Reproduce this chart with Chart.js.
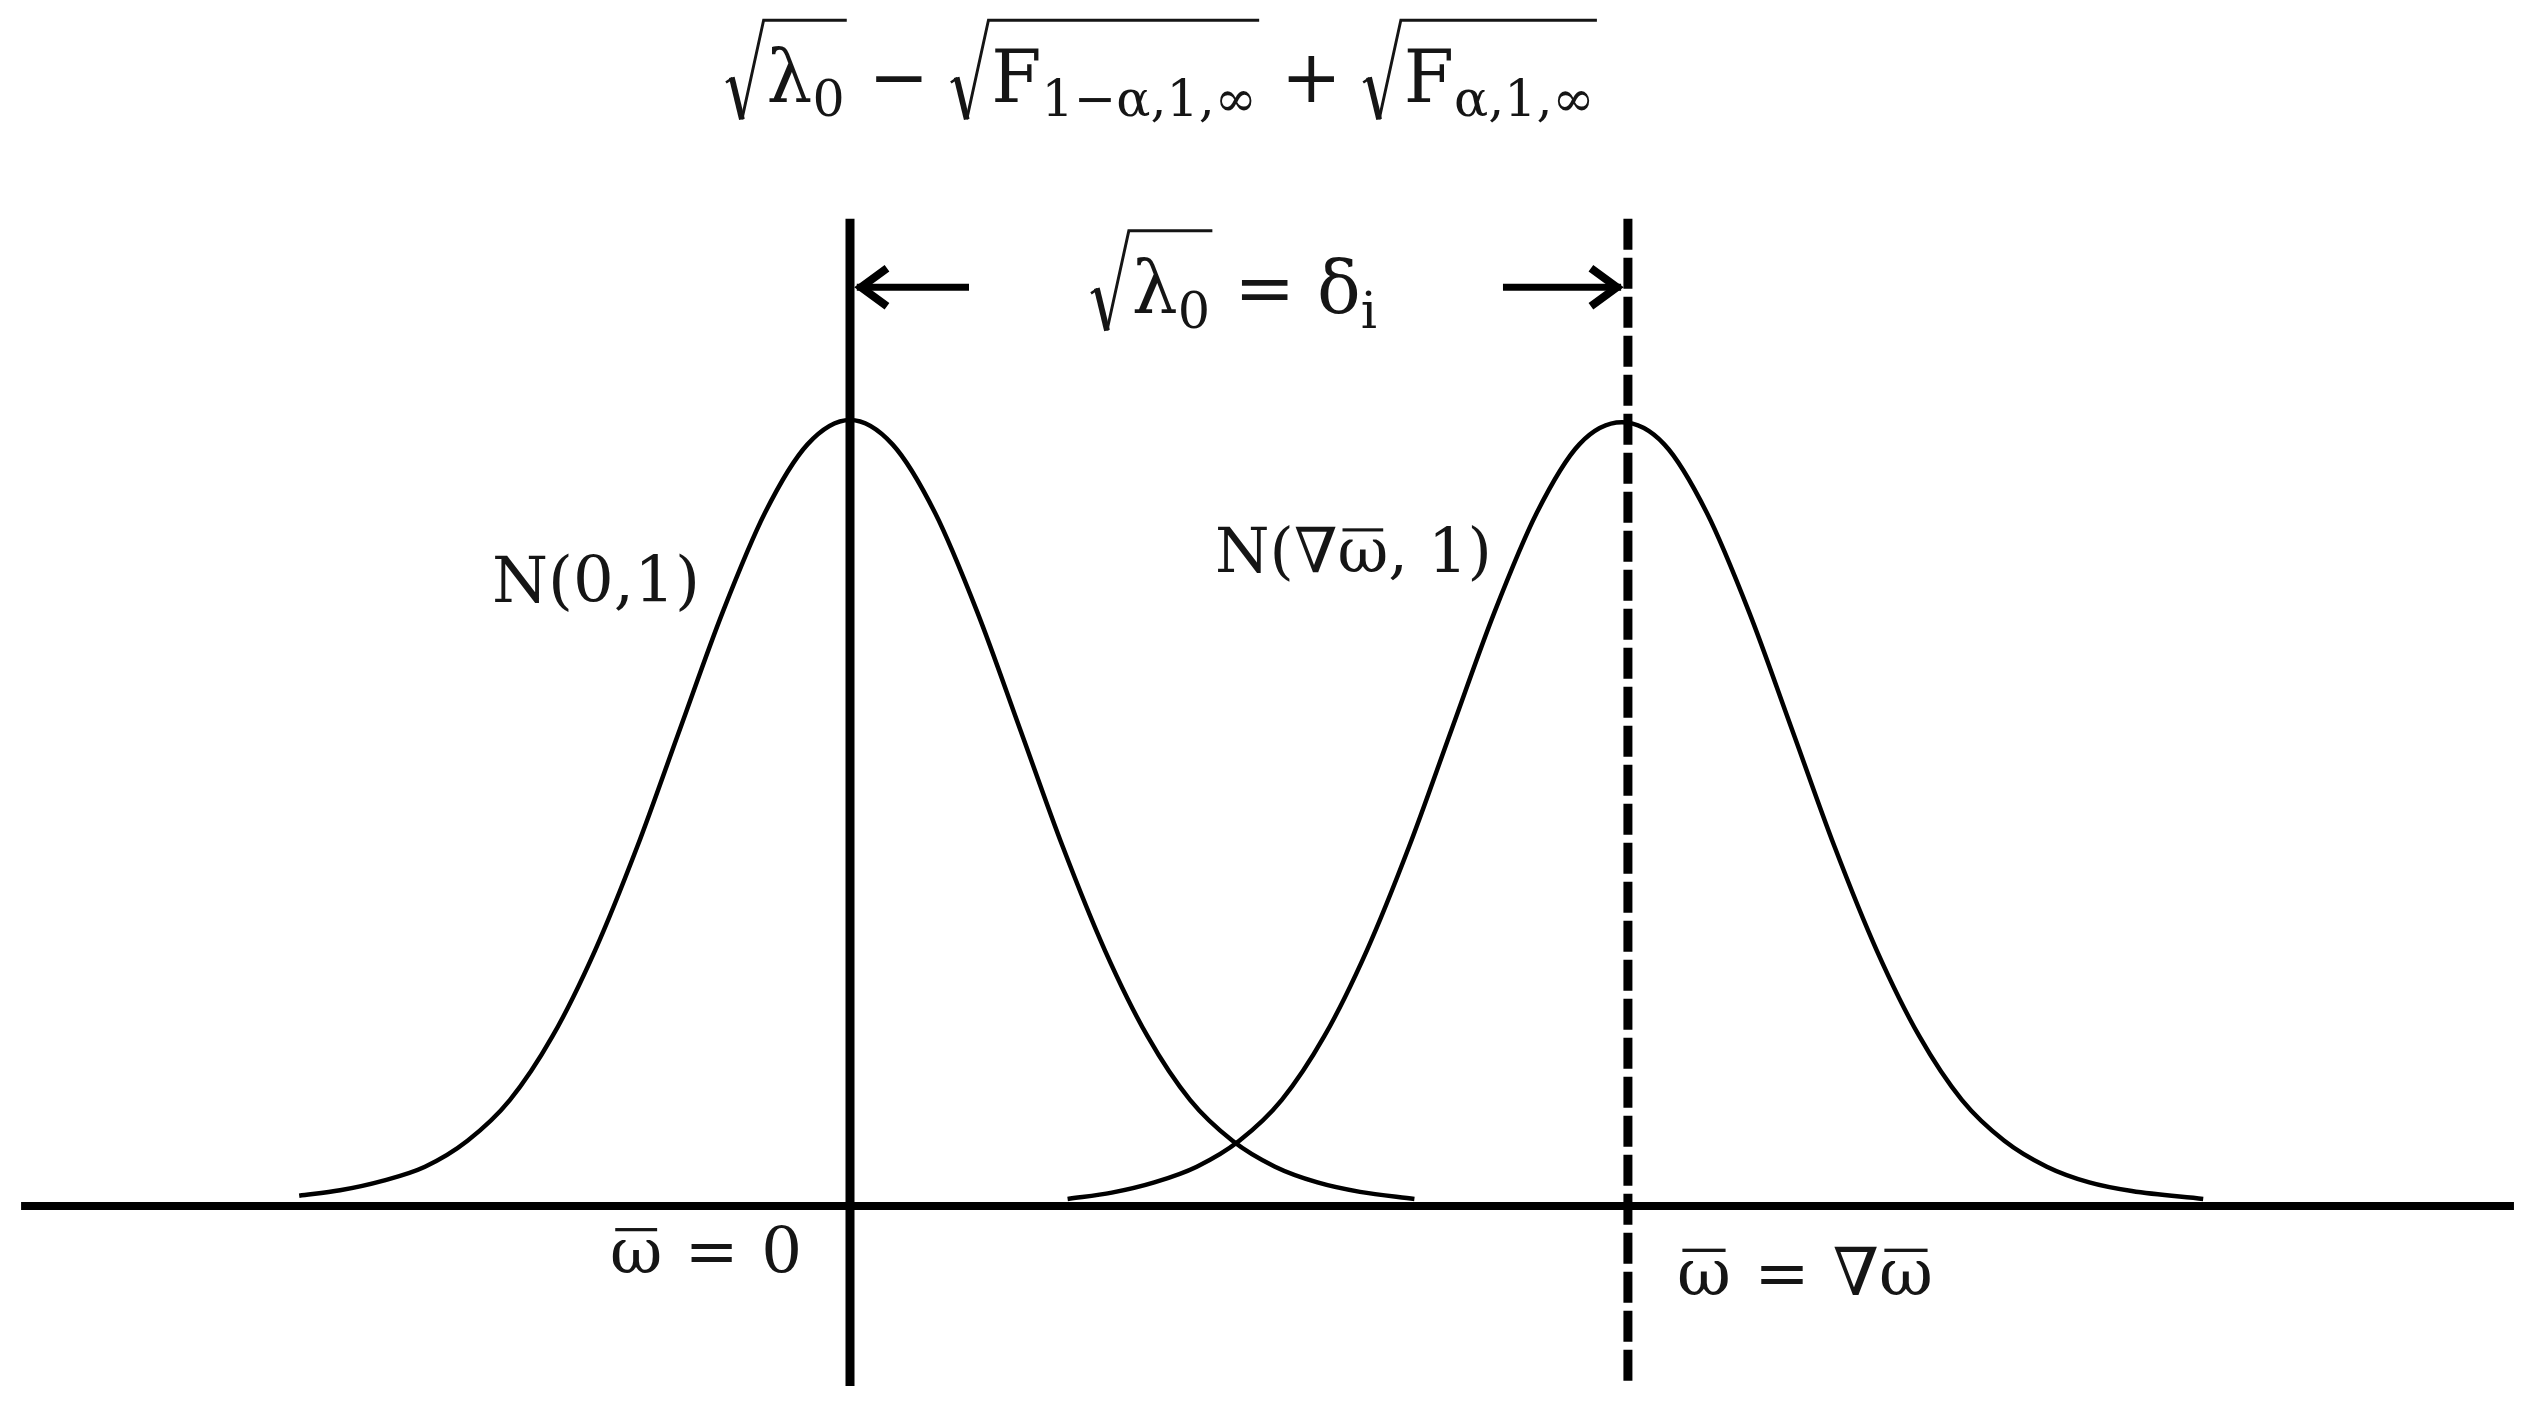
<!DOCTYPE html>
<html><head><meta charset="utf-8">
<script src="https://cdn.jsdelivr.net/npm/chart.js@4"></script>
<style>html,body{margin:0;padding:0;background:#fff;} #wrap{width:2542px;height:1419px;position:relative;}</style>
</head><body><div id="wrap"><canvas id="c"></canvas></div>
<script>
// ---------- data (x in sigma units, y as density relative to peak) ----------
const leftCurveX  = [-3.24,-3.0,-2.75,-2.5,-2.25,-2.0,-1.75,-1.5,-1.25,-1.0,-0.75,-0.5,-0.25,0,0.25,0.5,0.75,1.0,1.25,1.5,1.75,2.0,2.25,2.5,2.75,3.0,3.32];
const leftCurveY  = [0.013,0.02,0.032,0.05,0.083,0.135,0.216,0.325,0.458,0.607,0.755,0.882,0.969,1.0,0.969,0.882,0.755,0.607,0.458,0.325,0.216,0.135,0.083,0.05,0.03,0.018,0.009];
const rightCurveX = [1.28,1.54,1.79,2.04,2.29,2.54,2.79,3.04,3.29,3.54,3.79,4.04,4.29,4.54,4.79,5.04,5.29,5.54,5.79,6.04,6.29,6.54,6.79,7.04,7.29,7.54,7.96];
const rightCurveY = [0.009,0.017,0.03,0.05,0.083,0.135,0.216,0.325,0.458,0.607,0.755,0.882,0.969,0.997,0.969,0.882,0.755,0.607,0.458,0.325,0.216,0.135,0.083,0.05,0.03,0.019,0.009];
const meanZero = 0;
const meanShift = 4.576;
const axisRange = [-4.876, 9.788];
const guideRange = [-0.229, 1.256];
const arrowLevel = 1.169;
const arrowLeftTail = 0.70;
const arrowRightTail = 3.841;

// ---------- labels ----------
const T=(s)=>({k:'T',s}), S=(s)=>({k:'S',s}), W=(w)=>({k:'W',w}), B=(s)=>({k:'B',s}), R=(c)=>({k:'R',c});
const labels = [
  {items:[R([T('λ'),S('0')]),W(0.3),T('−'),W(0.3),R([T('F'),S('1−α,1,∞')]),W(0.3),T('+'),W(0.3),R([T('F'),S('α,1,∞')])], x0:726, x1:1597, base:102},
  {items:[R([T('λ'),S('0')]),W(0.3),T('='),W(0.3),T('δ'),S('i')], x0:1091, x1:1377, base:313},
  {items:[T('N(0,1)')], x0:492, x1:700, base:602},
  {items:[T('N(∇'),B('ω'),T(', 1)')], x0:1215, x1:1492, base:572},
  {items:[B('ω'),W(0.35),T('='),W(0.35),T('0')], x0:610, x1:802, base:1273},
  {items:[B('ω'),W(0.35),T('='),W(0.35),T('∇'),B('ω')], x0:1677, x1:1933, base:1295},
];
const FONT = '"DejaVu Serif", serif';
function fnt(sz){ return sz+'px '+FONT; }
function flow(ctx, items, s, draw, x, y){
  let cx = x;
  for (const it of items){
    if (it.k==='T'){ ctx.font=fnt(s); const w=ctx.measureText(it.s).width; if(draw) ctx.fillText(it.s,cx,y); cx+=w; }
    else if (it.k==='S'){ ctx.font=fnt(s*0.7); const w=ctx.measureText(it.s).width; if(draw) ctx.fillText(it.s,cx,y+s*0.2); cx+=w; }
    else if (it.k==='W'){ cx += it.w*s; }
    else if (it.k==='B'){ ctx.font=fnt(s); const w=ctx.measureText(it.s).width; if(draw){ ctx.fillText(it.s,cx,y); ctx.fillRect(cx+w*0.1, y-s*0.70, w*0.8, Math.max(2,s*0.05)); } cx+=w; }
    else if (it.k==='R'){
      const sw=s*0.52;
      const end = flow(ctx,it.c,s,draw,cx+sw+s*0.04,y)+s*0.03;
      if(draw){
        const top=y-s*1.13, bot=y+s*0.24;
        ctx.lineCap='butt'; ctx.lineJoin='miter';
        ctx.beginPath(); ctx.lineWidth=s*0.035; ctx.moveTo(cx,y-s*0.27); ctx.lineTo(cx+s*0.09,y-s*0.33); ctx.stroke();
        ctx.beginPath(); ctx.lineWidth=s*0.08; ctx.moveTo(cx+s*0.08,y-s*0.34); ctx.lineTo(cx+s*0.22,bot); ctx.stroke();
        ctx.beginPath(); ctx.lineWidth=s*0.04; ctx.moveTo(cx+s*0.22,bot); ctx.lineTo(cx+sw,top); ctx.lineTo(end,top); ctx.stroke();
      }
      cx = end;
    }
  }
  return cx;
}
const decor = {
  id:'decor',
  afterDatasetsDraw(chart){
    const ctx=chart.ctx, xs=chart.scales.x, ys=chart.scales.y;
    ctx.save();
    ctx.strokeStyle='#000'; ctx.lineWidth=8; ctx.lineJoin='miter'; ctx.lineCap='butt';
    const ay=ys.getPixelForValue(arrowLevel);
    const heads=[[xs.getPixelForValue(meanZero)+4.5+6.5,-1],[xs.getPixelForValue(meanShift)-4.5-6.5,1]];
    for(const [tx,d] of heads){
      ctx.beginPath(); ctx.moveTo(tx-d*26,ay-19); ctx.lineTo(tx,ay); ctx.lineTo(tx-d*26,ay+19); ctx.stroke();
    }
    ctx.fillStyle='#151515'; ctx.strokeStyle='#151515'; ctx.textBaseline='alphabetic';
    for(const L of labels){
      const w0 = flow(ctx,L.items,64,false,0,0);
      const s = 64*(L.x1-L.x0)/w0;
      flow(ctx,L.items,s,true,L.x0,L.base);
    }
    ctx.restore();
  }
};
const pts=(xa,ya)=>xa.map((x,i)=>({x,y:ya[i]}));
const line=(data,w,extra)=>Object.assign({data,borderColor:'#000',borderWidth:w,pointRadius:0,fill:false,tension:0,borderCapStyle:'butt'},extra||{});
new Chart(document.getElementById('c'),{
  type:'line',
  data:{datasets:[
    line([{x:axisRange[0],y:0},{x:axisRange[1],y:0}],8),
    line([{x:meanZero,y:guideRange[1]},{x:meanZero,y:guideRange[0]}],9),
    line([{x:meanShift,y:guideRange[1]},{x:meanShift,y:guideRange[0]}],9,{borderDash:[31,8]}),
    line(pts(leftCurveX,leftCurveY),4.5,{cubicInterpolationMode:'monotone'}),
    line(pts(rightCurveX,rightCurveY),4.5,{cubicInterpolationMode:'monotone'}),
    line([{x:meanZero+0.04,y:arrowLevel},{x:arrowLeftTail,y:arrowLevel}],7),
    line([{x:arrowRightTail,y:arrowLevel},{x:meanShift-0.04,y:arrowLevel}],7),
  ]},
  options:{
    responsive:true, maintainAspectRatio:false, animation:false, devicePixelRatio:1,
    layout:{padding:0},
    plugins:{legend:{display:false},tooltip:{enabled:false},title:{display:false}},
    scales:{
      x:{type:'linear',display:false,min:-5,max:-5+2542/170},
      y:{type:'linear',display:false,min:(1206-1419)/786,max:1206/786}
    }
  },
  plugins:[decor]
});
</script></body></html>
